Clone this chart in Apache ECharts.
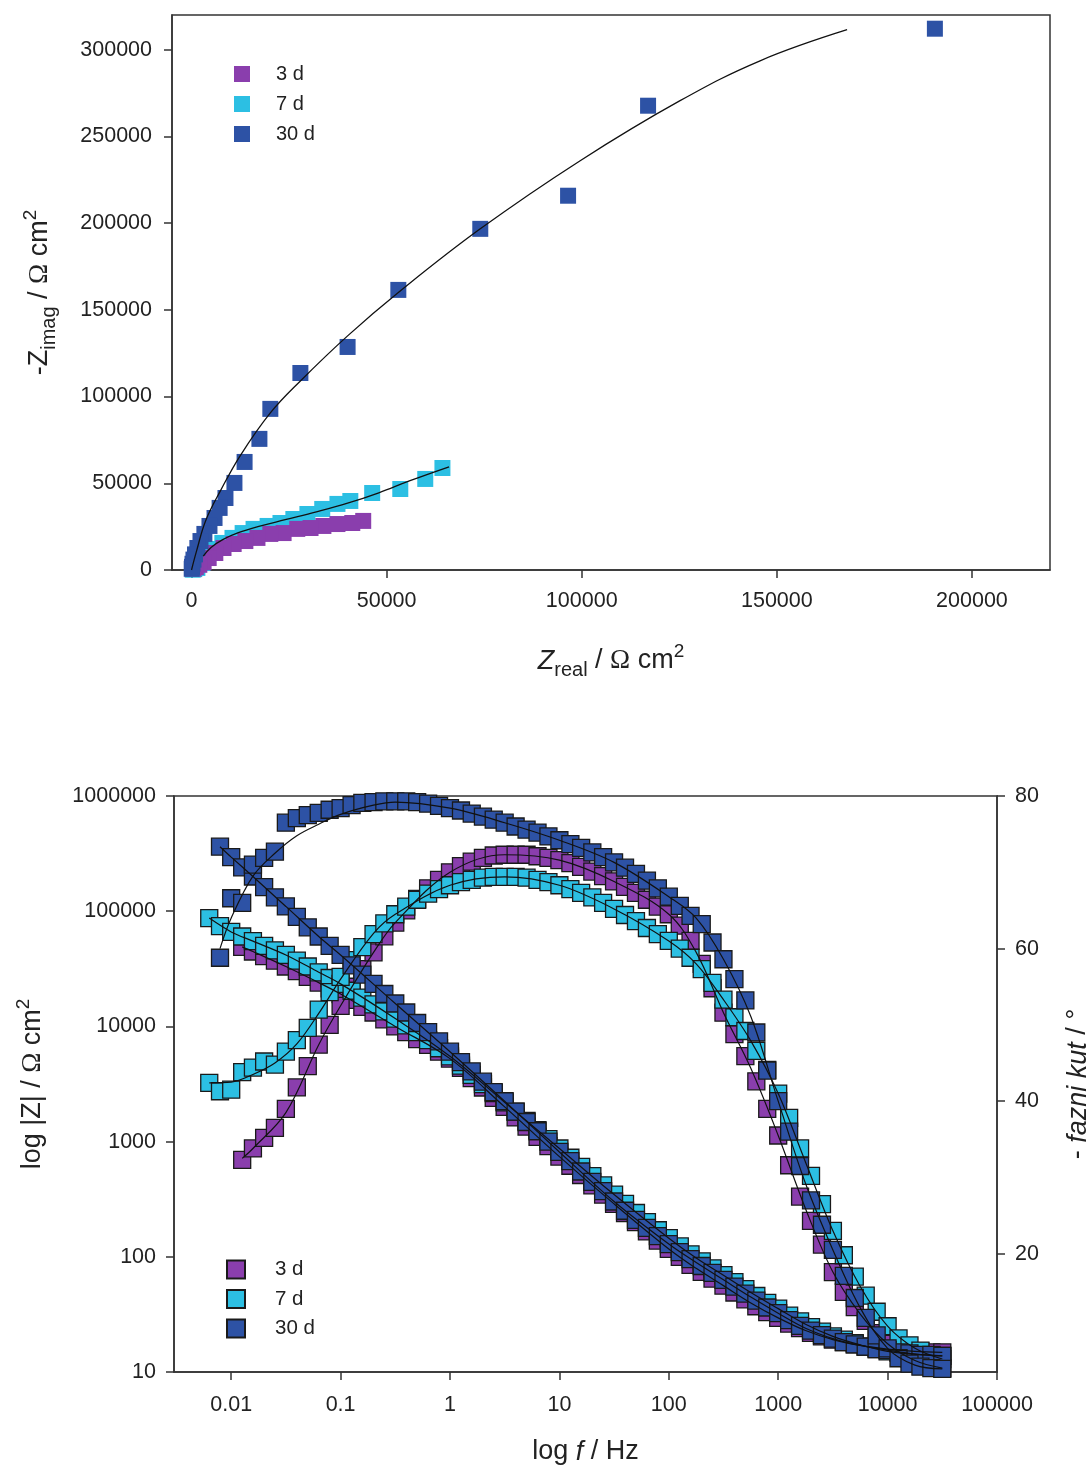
<!DOCTYPE html>
<html><head><meta charset="utf-8">
<script src="https://cdn.jsdelivr.net/npm/echarts@6/dist/echarts.min.js"></script>
<style>
html,body{margin:0;padding:0;background:#fff;overflow:hidden;}
#c1{position:absolute;left:0;top:0;width:1088px;height:735px;}
#c2{position:absolute;left:0;top:735px;width:1088px;height:735px;}
</style>
</head><body><div id="c1"></div><div id="c2"></div>
<script>
// ---------------- Nyquist data ----------------
const seriesNames = ['3 d', '7 d', '30 d'];
const nyqRe3d = [44000, 41200, 37400, 33800, 30500, 27100, 23600, 20200, 16900, 13800, 10800, 8200, 6100, 4400, 3100, 2000, 1100, 500];
const nyqIm3d = [28300, 27100, 26500, 25400, 24200, 23700, 21300, 20800, 18500, 16700, 15000, 12700, 9800, 6900, 4500, 3000, 1700, 800];
const nyqRe7d = [64300, 59900, 53500, 46300, 40700, 37400, 33500, 29700, 26100, 22800, 19500, 15900, 13100, 10500, 7900, 5600, 4100, 2800, 1500, 700, 300];
const nyqIm7d = [58800, 52500, 46700, 44400, 39800, 38100, 35200, 32300, 29400, 27100, 25400, 23700, 21300, 18500, 15600, 12100, 8100, 4000, 1200, 500, 200];
const nyqRe30d = [190500, 117000, 96500, 74000, 53000, 40000, 27900, 20200, 17400, 13600, 11000, 8700, 7200, 5900, 4600, 3300, 2300, 1500, 900, 500, 250, 120, 50];
const nyqIm30d = [312100, 267700, 215800, 196700, 161500, 128600, 113600, 92900, 75600, 62300, 50200, 41500, 35800, 30000, 25400, 20800, 16700, 12700, 9000, 6000, 3600, 1800, 700];
const fitRe3d = [2000, 5000, 9000, 14000, 20000, 28000, 35000, 41000];
const fitIm3d = [3000, 8500, 13500, 17500, 21000, 24300, 26000, 27400];
const fitRe7d = [3000, 5000, 8000, 12000, 17000, 24000, 32000, 40000, 48000, 56000, 66000];
const fitIm7d = [8000, 13000, 17500, 21500, 25000, 29000, 33500, 38500, 44500, 51500, 59500];
const fitRe30d = [0, 1300, 3600, 7400, 12500, 20200, 27900, 40000, 53000, 74000, 99600, 125200, 145700, 168000];
const fitIm30d = [0, 11000, 28300, 45600, 66000, 90600, 109000, 135000, 160000, 196700, 236000, 270600, 293600, 311500];
const nyqXTicks = [0, 50000, 100000, 150000, 200000];
const nyqYTicks = [0, 50000, 100000, 150000, 200000, 250000, 300000];

// ---------------- Bode data ----------------
const freq = [0.0063, 0.0079, 0.01, 0.0126, 0.0158, 0.02, 0.0251, 0.0316, 0.0398, 0.0501, 0.0631, 0.0794, 0.1, 0.126, 0.158, 0.2, 0.251, 0.316, 0.398, 0.501, 0.631, 0.794, 1, 1.26, 1.58, 2, 2.51, 3.16, 3.98, 5.01, 6.31, 7.94, 10, 12.6, 15.8, 20, 25.1, 31.6, 39.8, 50.1, 63.1, 79.4, 100, 126, 158, 200, 251, 316, 398, 501, 631, 794, 1000, 1259, 1585, 1995, 2512, 3162, 3981, 5012, 6310, 7943, 10000, 12589, 15849, 19953, 25119, 31623];
const absZ3d = [null, null, null, 49000, 44700, 40700, 37200, 33100, 30200, 26900, 24000, 21400, 19100, 17000, 14800, 13200, 11500, 10000, 8910, 7760, 6920, 6030, 5250, 4370, 3550, 2950, 2400, 2000, 1620, 1350, 1100, 912, 741, 617, 513, 417, 347, 288, 240, 200, 166, 138, 117, 100, 85.1, 74.1, 64.6, 56.2, 49.0, 42.7, 37.2, 33.1, 29.5, 26.3, 24.0, 21.9, 20.4, 19.1, 18.2, 17.4, 16.6, 16.2, 15.8, 15.5, 15.1, 15.1, 14.8, 14.8];
const absZ7d = [87100, 74100, 66100, 60300, 55000, 50100, 45700, 41700, 37200, 33100, 29500, 26300, 23400, 20400, 17800, 15500, 13500, 11700, 10200, 8910, 7590, 6460, 5500, 4570, 3800, 3160, 2630, 2190, 1820, 1510, 1260, 1050, 871, 724, 603, 501, 417, 347, 288, 240, 200, 170, 145, 123, 105, 91.2, 79.4, 69.2, 60.3, 52.5, 45.7, 39.8, 35.5, 30.9, 27.5, 24.5, 22.4, 20.4, 19.1, 17.8, 16.6, 15.8, 15.1, 14.8, 14.5, 14.1, 13.8, 13.8];
const absZ30d = [null, 363000, 295000, 240000, 200000, 162000, 132000, 110000, 89100, 72400, 60300, 50100, 41700, 33900, 28200, 23400, 19100, 15800, 13200, 10700, 8910, 7410, 6030, 4900, 4070, 3310, 2690, 2240, 1820, 1480, 1230, 1000, 813, 676, 550, 447, 372, 302, 251, 209, 178, 151, 129, 110, 95.5, 83.2, 72.4, 63.1, 55.0, 47.9, 41.7, 36.3, 32.4, 28.2, 25.1, 22.9, 20.9, 19.5, 18.2, 17.4, 16.6, 15.8, 15.5, 14.8, 14.5, 14.1, 14.1, 13.8];
const phase3d = [null, null, null, 32.3, 33.8, 35.2, 36.5, 39.0, 41.8, 44.6, 47.4, 50.0, 52.5, 55.0, 57.3, 59.5, 61.6, 63.4, 65.0, 66.5, 67.9, 69.0, 70.0, 70.8, 71.4, 71.9, 72.2, 72.3, 72.3, 72.3, 72.1, 71.9, 71.6, 71.2, 70.7, 70.1, 69.5, 68.8, 68.1, 67.3, 66.4, 65.5, 64.5, 63.0, 61.0, 58.0, 54.8, 51.6, 48.8, 45.9, 42.6, 39.0, 35.5, 31.6, 27.5, 24.3, 21.2, 17.6, 15.0, 13.0, 11.2, 9.6, 8.2, 7.1, 6.3, 5.7, 5.3, 5.0];
const phase7d = [42.4, 41.3, 41.5, 43.8, 44.4, 45.2, 44.8, 46.5, 48.0, 49.6, 52.0, 54.3, 56.3, 58.5, 60.2, 61.9, 63.3, 64.5, 65.5, 66.4, 67.2, 67.8, 68.3, 68.7, 69.0, 69.3, 69.4, 69.4, 69.4, 69.3, 69.0, 68.7, 68.3, 67.8, 67.3, 66.7, 66.0, 65.2, 64.4, 63.6, 62.7, 61.9, 61.0, 60.0, 58.8, 57.3, 55.5, 53.3, 51.0, 49.2, 46.6, 44.1, 41.0, 37.8, 33.8, 30.2, 26.5, 23.0, 19.8, 17.0, 14.5, 12.4, 10.5, 8.9, 8.0, 7.3, 6.7, 6.2];
const phase30d = [null, 58.8, 66.6, 66.0, 71.0, 71.9, 72.7, 76.5, 77.1, 77.5, 77.8, 78.2, 78.4, 78.8, 79.1, 79.2, 79.3, 79.3, 79.3, 79.2, 79.0, 78.7, 78.4, 78.1, 77.7, 77.3, 76.9, 76.5, 76.0, 75.6, 75.2, 74.7, 74.2, 73.7, 73.2, 72.6, 72.0, 71.3, 70.6, 69.8, 68.9, 67.9, 66.8, 65.6, 64.3, 63.2, 60.8, 58.6, 56.0, 53.2, 49.0, 44.0, 40.0, 36.0, 31.5, 27.0, 23.8, 20.5, 17.1, 14.2, 11.6, 9.3, 7.6, 6.3, 5.6, 5.2, 5.0, 4.9];
// fitted curves [frequency, value]
const fitZ3d = [[0.0126,49000],[0.0158,44700],[0.0316,33100],[0.0631,24000],[0.1,19100],[0.316,10000],[1,5250],[3.16,2000],[10,741],[31.6,288],[100,117],[178,79.4],[316,56.2],[562,39.8],[1000,29.5],[1778,22.9],[3162,19.1],[5623,17.0],[10000,15.8],[17783,15.1],[31623,14.8]];
const fitZ7d = [[0.0063,87100],[0.01,66100],[0.0158,55000],[0.0316,41700],[0.0631,29500],[0.1,23400],[0.316,11700],[1,5500],[3.16,2190],[10,871],[31.6,347],[100,145],[178,97.7],[316,69.2],[562,49.0],[1000,35.5],[1778,26.0],[3162,20.4],[5623,17.2],[10000,15.1],[17783,14.3],[31623,13.8]];
const fitZ30d = [[0.0079,363000],[0.01,295000],[0.0158,200000],[0.0316,110000],[0.0631,60300],[0.1,41700],[0.316,15800],[1,6030],[3.16,2240],[10,813],[31.6,302],[100,129],[178,89.1],[316,63.1],[562,44.7],[1000,32.4],[1778,24.0],[3162,19.5],[5623,17.0],[10000,15.5],[17783,14.3],[31623,13.8]];
const fitP3d = [[0.0126,32.5],[0.0158,33.8],[0.0316,38.5],[0.0631,47.4],[0.1,52.5],[0.2,59.5],[0.316,63.4],[1,70.0],[3.16,72.3],[10,71.6],[31.6,68.8],[100,64.5],[178,59.5],[316,51.6],[562,44.3],[1000,35.5],[1778,25.9],[3162,17.6],[5623,12.1],[10000,8.2],[17783,6.0],[31623,5.0]];
const fitP7d = [[0.0063,42.4],[0.01,42.5],[0.0158,43.5],[0.0251,45.0],[0.0398,47.5],[0.0631,51.5],[0.1,56.0],[0.2,62.0],[0.316,64.5],[1,68.3],[3.16,69.4],[10,68.3],[31.6,65.2],[100,61.0],[178,58.0],[316,53.3],[562,47.9],[1000,41.0],[1778,32.0],[3162,23.0],[5623,15.7],[10000,10.5],[17783,7.6],[31623,6.2]];
const fitP30d = [[0.0079,60.0],[0.01,64.0],[0.0158,69.5],[0.0251,72.5],[0.0398,74.8],[0.0631,76.3],[0.1,77.6],[0.2,78.8],[0.316,79.2],[1,78.4],[3.16,76.5],[10,74.2],[31.6,71.3],[100,66.8],[178,64.0],[316,58.6],[562,51.1],[1000,40.0],[1778,29.2],[3162,20.5],[5623,12.9],[10000,7.6],[17783,5.4],[31623,4.9]];
const phaseTicks = [20, 40, 60, 80];

// ---------------- helpers / styles ----------------
const COLORS = ['#8a3ead', '#2cbfe3', '#2d52a5'];
const FONT = 'Liberation Sans, Arial, sans-serif';
const TXT = '#222';
const AX = '#333';
function pairs(xs, ys) { const out = []; for (let i = 0; i < xs.length; i++) { if (ys[i] != null && xs[i] != null) out.push([xs[i], ys[i]]); } return out; }
const plain = v => String(v);
const nameRich = {
  m: {fontSize: 27, fontFamily: FONT, color: TXT, lineHeight: 38},
  i: {fontSize: 27, fontFamily: FONT, color: TXT, fontStyle: 'italic', lineHeight: 38},
  o: {fontSize: 27, fontFamily: 'Liberation Serif, DejaVu Serif, serif', color: TXT, lineHeight: 38},
  sub: {fontSize: 20, fontFamily: FONT, color: TXT, verticalAlign: 'bottom', lineHeight: 24},
  sup: {fontSize: 19, fontFamily: FONT, color: TXT, verticalAlign: 'top', lineHeight: 22}
};
const axisLineStyle = {show: true, onZero: false, lineStyle: {color: AX, width: 1.5}};
const tickStyle = {color: AX, width: 1.5};
const labelBase = {fontSize: 21.5, color: TXT, fontFamily: FONT};

// ---------------- Chart 1: Nyquist ----------------
const c1 = echarts.init(document.getElementById('c1'));
c1.setOption({
  animation: false,
  textStyle: {fontFamily: FONT},
  grid: {left: 172, right: 38, top: 15, bottom: 165, show: true, borderColor: AX, borderWidth: 1.5,
         backgroundColor: 'transparent', outerBoundsMode: 'none', containLabel: false},
  legend: {
    orient: 'vertical', left: 229, top: 59, itemWidth: 16, itemHeight: 16, itemGap: 10,
    icon: 'rect', data: seriesNames,
    textStyle: {fontSize: 20, color: TXT, fontFamily: FONT, padding: [0, 0, 0, 21]}
  },
  xAxis: {
    type: 'value', min: -5000, max: 220000,
    axisLine: axisLineStyle,
    axisTick: {show: true, length: 8, inside: false, lineStyle: tickStyle, customValues: nyqXTicks},
    axisLabel: Object.assign({margin: 20, formatter: plain, customValues: nyqXTicks}, labelBase),
    splitLine: {show: false},
    name: '{i|Z}{sub|real}{m| / }{o|Ω}{m| cm}{sup|2}',
    nameLocation: 'middle', nameGap: 72,
    nameTextStyle: {rich: nameRich}
  },
  yAxis: {
    type: 'value', min: 0, max: 320000,
    axisLine: axisLineStyle,
    axisTick: {show: true, length: 8, lineStyle: tickStyle, customValues: nyqYTicks},
    axisLabel: Object.assign({margin: 20, formatter: plain, customValues: nyqYTicks}, labelBase),
    splitLine: {show: false},
    name: '{m|-Z}{sub|imag}{m| / }{o|Ω}{m| cm}{sup|2}',
    nameLocation: 'middle', nameGap: 113,
    nameTextStyle: {rich: nameRich}
  },
  series: [
    {type: 'line', name: 'fit3d', data: pairs(fitRe3d, fitIm3d), smooth: 0.4, showSymbol: false, symbol: 'none',
     lineStyle: {color: '#111', width: 1.3}, z: 1, silent: true},
    {type: 'scatter', name: seriesNames[1], data: pairs(nyqRe7d, nyqIm7d), symbol: 'rect', symbolSize: 16,
     itemStyle: {color: COLORS[1], opacity: 1}, z: 2},
    {type: 'scatter', name: seriesNames[0], data: pairs(nyqRe3d, nyqIm3d), symbol: 'rect', symbolSize: 16,
     itemStyle: {color: COLORS[0], opacity: 1}, z: 2},
    {type: 'scatter', name: seriesNames[2], data: pairs(nyqRe30d, nyqIm30d), symbol: 'rect', symbolSize: 16,
     itemStyle: {color: COLORS[2], opacity: 1}, z: 2},
    {type: 'line', name: 'fit7d', data: pairs(fitRe7d, fitIm7d), smooth: 0.4, showSymbol: false, symbol: 'none',
     lineStyle: {color: '#111', width: 1.3}, z: 3, silent: true},
    {type: 'line', name: 'fit30d', data: pairs(fitRe30d, fitIm30d), smooth: 0.4, showSymbol: false, symbol: 'none',
     lineStyle: {color: '#111', width: 1.3}, z: 3, silent: true}
  ]
});

// ---------------- Chart 2: Bode ----------------
const c2 = echarts.init(document.getElementById('c2'));
const absZ = [absZ3d, absZ7d, absZ30d];
const phases = [phase3d, phase7d, phase30d];
const fitsZ = [fitZ3d, fitZ7d, fitZ30d];
const fitsP = [fitP3d, fitP7d, fitP30d];
const bodeSeries = [];
for (let k = 0; k < 3; k++) {
  const st = {color: COLORS[k], borderColor: '#1a1a1a', borderWidth: 1.3, opacity: 1};
  bodeSeries.push({type: 'scatter', name: seriesNames[k], xAxisIndex: 0, yAxisIndex: 0, data: pairs(freq, absZ[k]),
    symbol: 'rect', symbolSize: 17, itemStyle: st, z: 2});
  bodeSeries.push({type: 'scatter', name: seriesNames[k], xAxisIndex: 0, yAxisIndex: 1, data: pairs(freq, phases[k]),
    symbol: 'rect', symbolSize: 17, itemStyle: st, z: 2});
}
for (let k = 0; k < 3; k++) {
  bodeSeries.push({type: 'line', name: 'fitZ' + k, yAxisIndex: 0, data: fitsZ[k], smooth: 0.35, showSymbol: false, symbol: 'none',
    lineStyle: {color: '#111', width: 1.2}, z: 3, silent: true});
  bodeSeries.push({type: 'line', name: 'fitP' + k, yAxisIndex: 1, data: fitsP[k], smooth: 0.35, showSymbol: false, symbol: 'none',
    lineStyle: {color: '#111', width: 1.2}, z: 3, silent: true});
}
c2.setOption({
  animation: false,
  textStyle: {fontFamily: FONT},
  grid: {left: 174, right: 91, top: 61, bottom: 98, show: true, borderColor: AX, borderWidth: 1.5,
         backgroundColor: 'transparent', outerBoundsMode: 'none', containLabel: false},
  legend: {
    orient: 'vertical', left: 221, top: 519, itemWidth: 18, itemHeight: 18, itemGap: 8.5,
    icon: 'rect', data: seriesNames,
    textStyle: {fontSize: 20.5, color: TXT, fontFamily: FONT, padding: [0, 0, 0, 25]}
  },
  xAxis: {
    type: 'log', logBase: 10, min: 0.003, max: 100000,
    axisLine: axisLineStyle,
    axisTick: {show: true, length: 8, lineStyle: tickStyle},
    axisLabel: Object.assign({margin: 22, formatter: plain, showMinLabel: false}, labelBase),
    splitLine: {show: false}, minorTick: {show: false},
    name: '{m|log }{i|f}{m| / Hz}',
    nameLocation: 'middle', nameGap: 61,
    nameTextStyle: {rich: nameRich}
  },
  yAxis: [{
    type: 'log', logBase: 10, min: 10, max: 1000000,
    axisLine: axisLineStyle,
    axisTick: {show: true, length: 8, lineStyle: tickStyle},
    axisLabel: Object.assign({margin: 18, formatter: plain}, labelBase),
    splitLine: {show: false},
    name: '{m|log |Z| / }{o|Ω}{m| cm}{sup|2}',
    nameLocation: 'middle', nameGap: 122,
    nameTextStyle: {rich: nameRich}
  }, {
    type: 'value', min: 4.5, max: 80, position: 'right',
    axisLine: axisLineStyle,
    axisTick: {show: true, length: 8, lineStyle: tickStyle, customValues: phaseTicks},
    axisLabel: Object.assign({margin: 18, formatter: plain, customValues: phaseTicks}, labelBase),
    splitLine: {show: false},
    name: '{m|- }{i|fazni kut}{m| / °}',
    nameLocation: 'middle', nameGap: 62,
    nameTextStyle: {rich: nameRich}
  }],
  series: bodeSeries
});
</script></body></html>
